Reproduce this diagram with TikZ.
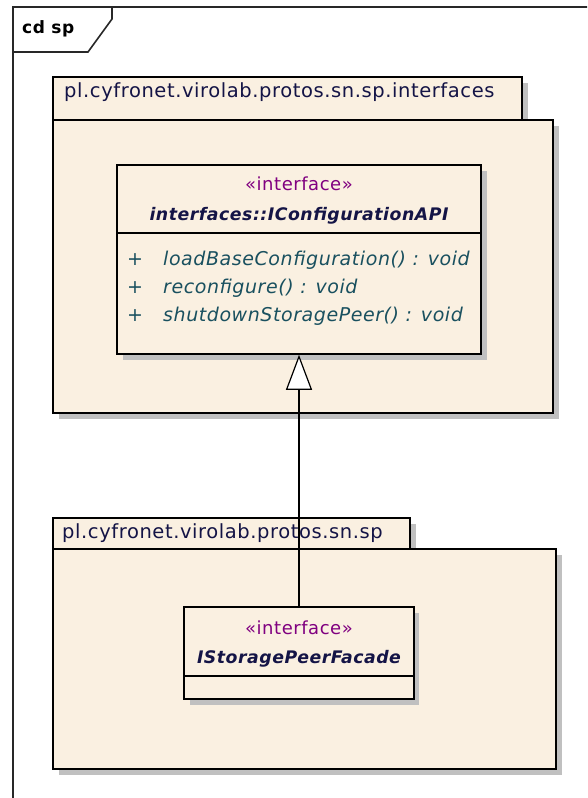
\documentclass[tikz,border=0pt]{standalone}
\usepackage{fontspec}
\setmainfont{DejaVu Sans}[LetterSpace=3]
\usetikzlibrary{arrows.meta}
\definecolor{pkgfill}{RGB}{250,240,225}
\definecolor{shadowgray}{RGB}{192,192,192}
\definecolor{stereo}{RGB}{128,0,128}
\definecolor{namecol}{RGB}{20,20,70}
\definecolor{opcol}{RGB}{25,80,95}
\definecolor{framecol}{RGB}{40,40,40}
\begin{document}
\begin{tikzpicture}[x=1pt,y=-1pt,
  frameline/.style={draw=framecol,line width=1.6pt},
  boxline/.style={draw=black,line width=1.6pt},
  shadowfill/.style={fill=shadowgray},
  pkgbody/.style={boxline,fill=pkgfill},
  pkglabel/.style={anchor=west,inner sep=0pt,text=namecol,font=\fontsize{19.5}{22}\selectfont},
  stereotxt/.style={inner sep=0pt,text=stereo,font=\fontsize{18}{20}\selectfont},
  nametxt/.style={inner sep=0pt,text=namecol,font=\fontsize{17.3}{22}\selectfont\bfseries\itshape},
  optxt/.style={anchor=west,inner sep=0pt,text=opcol,font=\fontsize{19}{22}\selectfont\itshape},
  classbox/.style={boxline,fill=pkgfill,inner sep=0pt},
  realize/.style={line width=1.4pt,-{Triangle[length=35pt,width=26pt,fill=white,line width=1.2pt]}}
]
\useasboundingbox (0,0) rectangle (587,798);
\clip (0,0) rectangle (587,798);

% diagram frame with its name tab
\draw[frameline] (13,900) -- (13,7) -- (700,7);
\draw[frameline] (13,52) -- (88,52) -- (112,19) -- (112,7);
\node[anchor=west,inner sep=0pt,font=\fontsize{17}{20}\selectfont\bfseries] (framename) at (22,29) {cd sp};

% package: interfaces
\fill[shadowfill] (59,83) rectangle (528,126);
\fill[shadowfill] (59,126) rectangle (559,419);
\draw[pkgbody] (53,77) rectangle (522,120);
\draw[pkgbody] (53,120) rectangle (553,413);
\node[pkglabel] (pkgif) at (64,92) {pl.cyfronet.virolab.protos.sn.sp.interfaces};

% package: sp
\fill[shadowfill] (59,524) rectangle (416,555);
\fill[shadowfill] (59,555) rectangle (562,775);
\draw[pkgbody] (53,518) rectangle (410,549);
\draw[pkgbody] (53,549) rectangle (556,769);
\node[pkglabel] (pkgsp) at (62,533) {pl.cyfronet.virolab.protos.sn.sp};

% interface IConfigurationAPI
\fill[shadowfill] (123,171) rectangle (487,360);
\node[classbox,minimum width=364pt,minimum height=189pt] (api) at (299,259.5) {};
\draw[boxline] (117,233) -- (481,233);
\node[stereotxt] (apist) at (299,184) {«interface»};
\node[nametxt] (apiname) at (299,216) {interfaces::IConfigurationAPI};
\node[optxt] (op1p) at (127,260) {+};
\node[optxt] (op1) at (163,260) {loadBaseConfiguration() : void};
\node[optxt] (op2p) at (127,288) {+};
\node[optxt] (op2) at (163,288) {reconfigure() : void};
\node[optxt] (op3p) at (127,316) {+};
\node[optxt] (op3) at (163,316) {shutdownStoragePeer() : void};

% interface IStoragePeerFacade
\fill[shadowfill] (190,613) rectangle (419,705);
\node[classbox,minimum width=230pt,minimum height=92pt] (facade) at (299,653) {};
\draw[boxline] (184,676) -- (414,676);
\node[stereotxt] (facst) at (299,628) {«interface»};
\node[nametxt] (facname) at (299,659) {IStoragePeerFacade};

% realization
\draw[realize] (facade.north) -- (api.south);
\end{tikzpicture}
\end{document}
